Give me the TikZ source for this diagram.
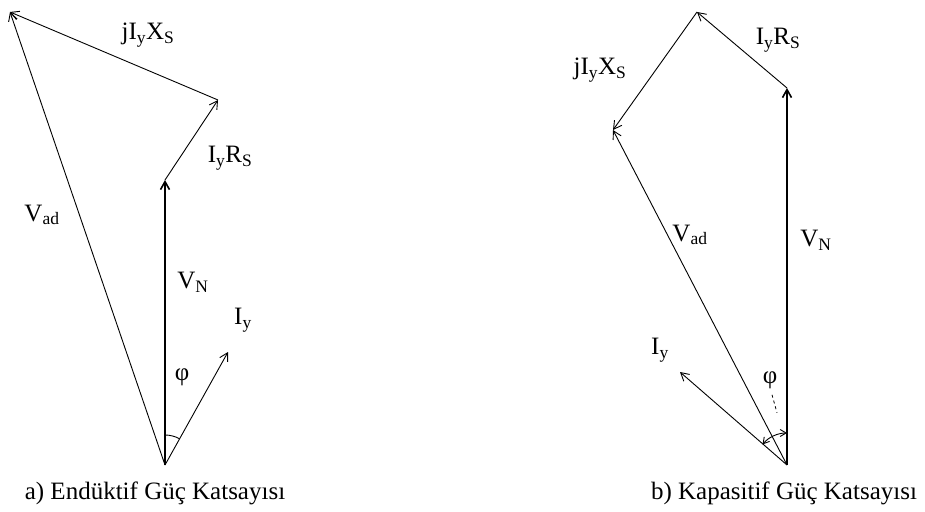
\documentclass[tikz,border=0pt]{standalone}
\usepackage{fontspec}
\setmainfont{Liberation Serif}
\usepackage{tikz}
\usetikzlibrary{arrows.meta}

\begin{document}
\begin{tikzpicture}[
    x=1pt, y=-1pt,
    vec/.style={-{Straight Barb[length=8pt,width=9pt]}, line width=0.9pt},
    volt/.style={vec, line width=1.6pt},
    lbl/.style={font=\fontsize{25}{28}\selectfont, inner sep=0pt},
    capt/.style={font=\fontsize{25}{28}\selectfont, inner sep=0pt},
]
    \useasboundingbox (0,0) rectangle (925,511);

    % a) inductive
    \coordinate (o1) at (165,465);
    \coordinate (vn1) at (165,180);
    \coordinate (rs1) at (218,100);
    \coordinate (xs1) at (10,12);
    \coordinate (iy1) at (228,352);

    \draw[volt] (o1) -- (vn1);
    \draw[vec] (vn1) -- (rs1);
    \draw[vec] (rs1) -- (xs1);
    \draw[vec] (o1) -- (xs1);
    \draw[vec] (o1) -- (iy1);
    \draw[line width=0.9pt] (o1) ++(0,-30) arc[start angle=-90, end angle=-61, radius=30];

    \node[lbl] (lxs1) at (148,35) {jI\textsubscript{y}X\textsubscript{S}};
    \node[lbl] (lrs1) at (230,158) {I\textsubscript{y}R\textsubscript{S}};
    \node[lbl] (lad1) at (42,215) {V\textsubscript{ad}};
    \node[lbl] (lvn1) at (193,282) {V\textsubscript{N}};
    \node[lbl] (liy1) at (243,320) {I\textsubscript{y}};
    \node[lbl] (lphi1) at (182,377) {φ};

    % b) capacitive
    \coordinate (o2) at (787,465);
    \coordinate (vn2) at (787,88);
    \coordinate (rs2) at (697,12);
    \coordinate (xs2) at (613,130);
    \coordinate (iy2) at (680,372);

    \draw[volt] (o2) -- (vn2);
    \draw[vec] (vn2) -- (rs2);
    \draw[vec] (rs2) -- (xs2);
    \draw[vec] (o2) -- (xs2);
    \draw[vec] (o2) -- (iy2);
    \draw[{Straight Barb[length=6pt,width=7pt]}-{Straight Barb[length=6pt,width=7pt]}, line width=0.9pt]
        (o2) ++(0,-32) arc[start angle=-90, end angle=-140, radius=32];

    \node[lbl] (lxs2) at (600,70) {jI\textsubscript{y}X\textsubscript{S}};
    \node[lbl] (lrs2) at (778,40) {I\textsubscript{y}R\textsubscript{S}};
    \node[lbl] (lad2) at (690,235) {V\textsubscript{ad}};
    \node[lbl] (lvn2) at (816,240) {V\textsubscript{N}};
    \node[lbl] (liy2) at (660,350) {I\textsubscript{y}};
    \node[lbl] (lphi2) at (770,380) {φ};
    \draw[dashed, line width=0.8pt] (lphi2.south) ++(2,6) -- ++(5,18);

    \node[capt] (capa) at (155,493) {a) Endüktif Güç Katsayısı};
    \node[capt] (captb) at (784,493) {b) Kapasitif Güç Katsayısı};
\end{tikzpicture}
\end{document}
